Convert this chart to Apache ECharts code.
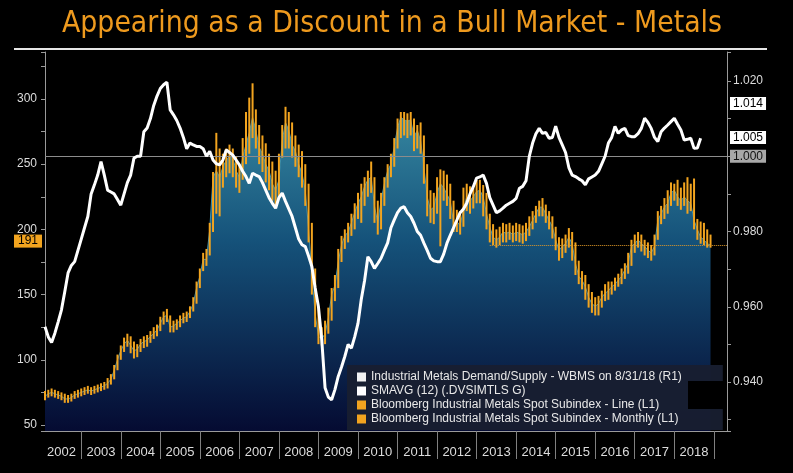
<!DOCTYPE html>
<html>
<head>
<meta charset="utf-8">
<script src="https://cdn.jsdelivr.net/npm/echarts@6/dist/echarts.min.js"></script>
<style>
  html, body { margin: 0; padding: 0; background: #000; }
  #chart { width: 793px; height: 473px; }
</style>
</head>
<body>
<div id="chart"></div>
<script>
// Metals: BCOM industrial metals spot (left) vs WBMS demand/supply 12m avg (right).
// Monthly points, Jan 2002 .. Apr 2019 on the axis.

const TITLE = 'Appearing as a Discount in a Bull Market - Metals';
const FIRST_YEAR = 2002, LAST_YEAR = 2019, LAST_MONTH = 4;

const NAME_RAW = 'Industrial Metals Demand/Supply - WBMS on 8/31/18 (R1)';
const NAME_AVG = 'SMAVG (12) (.DVSIMTLS G)';
const NAME_LINE = 'Bloomberg Industrial Metals Spot Subindex - Line (L1)';
const NAME_BARS = 'Bloomberg Industrial Metals Spot Subindex - Monthly (L1)';

// 12m average of demand/supply ratio, Jan 2002 .. Aug 2018
const WBMS_AVG = [
  0.9547, 0.952, 0.9505, 0.953, 0.956, 0.9592, 0.964, 0.969, 0.971, 0.972, 0.975, 0.978,
  0.981, 0.984, 0.990, 0.9924, 0.995, 0.9986, 0.995, 0.991, 0.9905, 0.990, 0.9885, 0.987,
  0.990, 0.993, 0.995, 0.9995, 1.000, 1.000, 1.0065, 1.0075, 1.010, 1.0135, 1.016, 1.018,
  1.019, 1.0197, 1.0123, 1.011, 1.0095, 1.0075, 1.005, 1.002, 1.0035, 1.003, 1.0026, 1.0026,
  1.002, 1.000, 1.0013, 0.999, 0.998, 0.9977, 0.999, 1.0017, 1.001, 1.0003, 0.999, 0.9977,
  0.996, 0.9946, 0.9928, 0.9955, 0.995, 0.9946, 0.993, 0.991, 0.989, 0.9875, 0.9862, 0.989,
  0.9902, 0.988, 0.986, 0.984, 0.981, 0.978, 0.9765, 0.976, 0.9735, 0.9707, 0.965, 0.960,
  0.9512, 0.9385, 0.936, 0.9353, 0.938, 0.9415, 0.944, 0.9468, 0.950, 0.949, 0.952, 0.9556,
  0.962, 0.967, 0.9733, 0.972, 0.9702, 0.9715, 0.9729, 0.975, 0.977, 0.981, 0.9831, 0.985,
  0.9862, 0.9866, 0.985, 0.984, 0.9822, 0.980, 0.979, 0.9769, 0.975, 0.9729, 0.9722, 0.972,
  0.972, 0.974, 0.9769, 0.979, 0.981, 0.983, 0.985, 0.986, 0.9875, 0.990, 0.9919, 0.9942,
  0.9945, 0.995, 0.9928, 0.989, 0.987, 0.985, 0.9855, 0.9862, 0.987, 0.9875, 0.988, 0.9888,
  0.9915, 0.992, 0.9935, 1.000, 1.0035, 1.006, 1.0074, 1.0061, 1.0063, 1.0048, 1.005, 1.008,
  1.005, 1.003, 1.001, 0.997, 0.995, 0.9946, 0.994, 0.9935, 0.9924, 0.994, 0.9945, 0.995,
  0.996, 0.998, 1.000, 1.0035, 1.005, 1.0079, 1.0061, 1.007, 1.0074, 1.0055, 1.0052, 1.0052,
  1.006, 1.0074, 1.0101, 1.009, 1.0074, 1.005, 1.0039, 1.0065, 1.0075, 1.0083, 1.0092, 1.0101,
  1.0085, 1.0070, 1.0043, 1.0045, 1.0048, 1.0021, 1.0022, 1.0048,
];

// spot subindex, month-end close, Jan 2002 .. Nov 2018
const SPOT_CLOSE = [
  72, 74, 75, 74, 73, 72, 70, 70, 71, 73, 74, 75,
  76, 77, 76, 77, 78, 79, 80, 82, 85, 92, 100, 107,
  112, 115, 111, 107, 108, 112, 114, 115, 118, 120, 123, 128,
  133, 134, 125, 126, 128, 130, 132, 133, 137, 143, 155, 164,
  177, 177, 200, 240, 245, 240, 248, 253, 256, 255, 245, 240,
  255, 265, 274, 286, 276, 263, 258, 250, 245, 235, 230, 238,
  268, 282, 276, 265, 260, 250, 243, 230, 200, 165, 135, 118,
  116, 120, 132, 150, 157, 175, 188, 195, 198, 205, 213, 220,
  225, 233, 238, 240, 218, 205, 222, 235, 245, 250, 263, 278,
  286, 284, 283, 284, 271, 276, 268, 248, 225, 215, 217, 228,
  235, 232, 227, 222, 205, 206, 203, 215, 225, 222, 225, 229,
  230, 225, 212, 202, 194, 192, 194, 198, 197, 198, 196, 198,
  197, 196, 198, 202, 207, 212, 217, 217, 212, 207, 202, 192,
  184, 187, 189, 194, 189, 174, 164, 161, 156, 148, 143, 141,
  143, 148, 151, 153, 156, 158, 161, 164, 169, 174, 187, 189,
  192, 189, 187, 184, 182, 187, 207, 212, 217, 220, 228, 230,
  225, 222, 225, 222, 220, 207, 200, 194, 192, 189, 188,
];

// monthly high / low of the spot subindex
const SPOT_HIGH = [
  76, 77, 78, 77, 76, 75, 74, 73, 74, 76, 77, 78,
  79, 80, 79, 80, 81, 82, 83, 86, 89, 96, 104, 111,
  117, 120, 118, 114, 112, 116, 118, 119, 122, 125, 127, 133,
  137, 139, 134, 130, 131, 134, 136, 137, 141, 148, 160, 170,
  182, 185, 205, 244, 274, 262, 258, 262, 265, 262, 256, 250,
  270, 290, 301, 312, 292, 280, 272, 266, 258, 252, 245, 258,
  280, 294, 290, 282, 272, 265, 260, 250, 235, 205, 170, 140,
  125, 130, 140, 155, 165, 185, 195, 200, 205, 212, 220, 228,
  235, 240, 245, 252, 240, 222, 228, 240, 250, 258, 270, 285,
  290, 290, 289, 290, 285, 280, 282, 272, 250, 230, 228, 240,
  246, 245, 242, 235, 222, 215, 214, 232, 235, 233, 232, 238,
  238, 234, 228, 212, 204, 200, 202, 205, 204, 205, 203, 205,
  204, 203, 205, 210, 214, 218, 222, 224, 219, 214, 210, 202,
  194, 193, 196, 201, 198, 190, 176, 168, 165, 158, 152, 148,
  149, 153, 158, 160, 160, 163, 166, 170, 174, 182, 192, 196,
  198, 196, 192, 190, 188, 196, 214, 218, 224, 230, 236, 235,
  238, 232, 236, 240, 235, 239, 208, 206, 205, 200, 196,
];
const SPOT_LOW = [
  69, 71, 72, 71, 70, 69, 67, 67, 68, 70, 71, 72,
  73, 74, 73, 74, 75, 76, 77, 78, 81, 85, 92, 100,
  106, 110, 105, 101, 102, 106, 109, 110, 113, 116, 118, 122,
  127, 129, 121, 121, 123, 125, 128, 129, 132, 137, 143, 155,
  168, 172, 180, 198, 212, 210, 232, 240, 243, 240, 232, 228,
  238, 250, 258, 270, 262, 250, 244, 236, 230, 222, 218, 225,
  255, 262, 262, 255, 248, 240, 232, 218, 190, 150, 125, 112,
  111, 112, 120, 130, 145, 155, 175, 185, 190, 195, 200, 208,
  205, 218, 225, 228, 205, 196, 200, 218, 232, 240, 248, 262,
  270, 272, 270, 272, 260, 262, 258, 235, 210, 205, 204, 212,
  187, 222, 218, 208, 198, 198, 196, 202, 214, 212, 216, 220,
  220, 210, 200, 190, 188, 186, 188, 190, 190, 192, 190, 191,
  190, 189, 191, 195, 200, 205, 210, 210, 205, 200, 193, 184,
  176, 178, 182, 186, 176, 165, 158, 154, 146, 140, 136, 134,
  134, 140, 145, 146, 150, 153, 156, 158, 162, 166, 172, 182,
  186, 183, 180, 178, 176, 180, 192, 204, 208, 212, 218, 222,
  218, 215, 218, 212, 214, 200, 192, 189, 188, 186, 186,
];

// axis tags
const SPOT_TAG = 191;        // left tag
const SPOT_LAST = 188;       // dotted last-price line
const SPOT_LAST_FROM = 135;  // month index where the dotted line starts
const RAW_LAST = 1.014;
const AVG_LAST = 1.005;
const PARITY = 1.000;

const MONTHS = [];
for (let y = FIRST_YEAR; y <= LAST_YEAR; y++) {
  for (let m = 1; m <= 12; m++) {
    if (y === LAST_YEAR && m > LAST_MONTH) break;
    MONTHS.push(y + '-' + String(m).padStart(2, '0'));
  }
}

const ORANGE = '#f2a41f';
const AXIS_C = '#9a9a9a';
const TEXT_C = '#dcdcdc';
const FONT = 'Liberation Sans';
const NONE = { color: 'rgba(0,0,0,0)', width: 0 };

// title is squeezed horizontally to the narrow terminal look
const TITLE_FONT = 'DejaVu Sans';
const TITLE_SIZE = 31;
const TITLE_W = 660;
const titleScale = (() => {
  const ctx = document.createElement('canvas').getContext('2d');
  ctx.font = TITLE_SIZE + 'px "' + TITLE_FONT + '"';
  return TITLE_W / ctx.measureText(TITLE).width;
})();

const chart = echarts.init(document.getElementById('chart'), null, { renderer: 'canvas' });

// tag label on an axis (price flag)
const tag = (bg, fg) => ({
  show: true, position: 'end', distance: 3, formatter: (p) => Number(p.value).toFixed(3),
  backgroundColor: bg, color: fg, padding: [1, 3, 0, 3], fontSize: 12, fontFamily: FONT,
});

function renderBar(params, api) {
  const lo = api.coord([api.value(0), api.value(1)]);
  const hi = api.coord([api.value(0), api.value(2)]);
  return {
    type: 'rect',
    shape: { x: lo[0] - 1, y: hi[1], width: 2, height: Math.max(1, lo[1] - hi[1]) },
    style: { fill: ORANGE },
  };
}

const option = {
  backgroundColor: '#000',
  animation: false,
  graphic: [
    {
      type: 'text', x: 62, y: 8, scaleX: titleScale, originX: 0,
      style: { text: TITLE, fill: '#ee9a1e', fontFamily: TITLE_FONT, fontSize: TITLE_SIZE, verticalAlign: 'top' },
    },
    { type: 'line', shape: { x1: 14, y1: 49, x2: 767, y2: 49 }, style: { stroke: '#e6e6e6', lineWidth: 2 } },
    { type: 'rect', shape: { x: 688, y: 381, width: 35, height: 28 }, style: { fill: '#000' }, z: 100 },
  ],
  legend: {
    orient: 'vertical', left: 347, top: 365,
    padding: [5, 41, 4, 10], itemGap: 0, itemWidth: 9, itemHeight: 9, icon: 'rect',
    backgroundColor: 'rgba(24,31,48,0.95)',
    textStyle: { color: '#e8e8e8', fontSize: 12, fontFamily: FONT, lineHeight: 14 },
    data: [
      { name: NAME_RAW, itemStyle: { color: '#f2f2f2' } },
      { name: NAME_AVG, itemStyle: { color: '#ffffff' } },
      { name: NAME_LINE, itemStyle: { color: ORANGE } },
      { name: NAME_BARS, itemStyle: { color: ORANGE } },
    ],
    selectedMode: false,
  },
  grid: { left: 45, right: 66, top: 52, bottom: 42 },
  xAxis: {
    type: 'category', data: MONTHS, boundaryGap: false,
    axisLine: { lineStyle: { color: AXIS_C } },
    axisTick: { interval: (i, v) => v.endsWith('-12'), length: 28, lineStyle: { color: '#808080' } },
    axisLabel: {
      interval: (i, v) => v.endsWith('-06'), formatter: (v) => v.slice(0, 4),
      color: TEXT_C, fontSize: 13, fontFamily: FONT, margin: 15,
    },
    splitLine: { show: false },
  },
  yAxis: [
    {
      type: 'value', position: 'left', min: 45.4, max: 336, scale: true,
      axisLine: { show: true, lineStyle: { color: AXIS_C } },
      axisTick: { show: true, length: 4, lineStyle: { color: AXIS_C } },
      minorTick: { show: true, splitNumber: 2, length: 4, lineStyle: { color: AXIS_C } },
      splitLine: { show: false },
      axisLabel: { color: TEXT_C, fontSize: 12, fontFamily: FONT, showMinLabel: false, showMaxLabel: false },
    },
    {
      type: 'value', position: 'right', min: 0.927, max: 1.0277, splitNumber: 10, scale: true,
      axisLine: { show: true, lineStyle: { color: AXIS_C } },
      axisTick: { show: true, length: 4, lineStyle: { color: AXIS_C } },
      splitLine: { show: false },
      axisLabel: {
        color: TEXT_C, fontSize: 12, fontFamily: FONT, margin: 6,
        formatter: (v) => {
          const k = Math.round(v * 1000);
          return (k % 20 !== 0 || k === 1000) ? '' : v.toFixed(3);
        },
      },
    },
  ],
  series: [
    {
      name: NAME_LINE, type: 'line', yAxisIndex: 0, data: SPOT_CLOSE,
      symbol: 'none', z: 1, color: ORANGE,
      lineStyle: { width: 1, color: '#3f90ab' },
      areaStyle: {
        opacity: 1,
        color: new echarts.graphic.LinearGradient(0, 85, 0, 431, [
          { offset: 0, color: '#3d92a8' },
          { offset: 0.45, color: '#15527a' },
          { offset: 1, color: '#050b32' },
        ], true),
      },
      markLine: {
        symbol: 'none', silent: true, animation: false, precision: 3,
        data: [
          {
            yAxis: SPOT_TAG, lineStyle: NONE,
            label: { show: true, position: 'start', distance: 3, formatter: String(SPOT_TAG),
              backgroundColor: ORANGE, color: '#000', padding: [1, 4, 0, 4], fontSize: 12, fontFamily: FONT },
          },
          [
            { coord: [MONTHS[SPOT_LAST_FROM], SPOT_LAST], lineStyle: { type: 'dotted', color: '#e09a28', width: 1 }, label: { show: false } },
            { coord: [MONTHS[MONTHS.length - 1], SPOT_LAST] },
          ],
        ],
      },
    },
    {
      name: NAME_BARS, type: 'custom', yAxisIndex: 0, z: 2, color: ORANGE,
      data: SPOT_LOW.map((lo, i) => [i, lo, SPOT_HIGH[i]]),
      encode: { x: 0, y: [1, 2] },
      renderItem: renderBar,
    },
    { name: NAME_RAW, type: 'line', yAxisIndex: 1, data: [], color: '#f2f2f2' },
    {
      name: NAME_AVG, type: 'line', yAxisIndex: 1, data: WBMS_AVG,
      symbol: 'none', z: 5, color: '#fff',
      lineStyle: { color: '#fff', width: 3 },
      markLine: {
        symbol: 'none', silent: true, animation: false, precision: 3,
        data: [
          { yAxis: PARITY, lineStyle: { color: '#8c8c8c', width: 1, type: 'solid' }, label: tag('#a8a8a8', '#111') },
          { yAxis: RAW_LAST, lineStyle: NONE, label: tag('#ffffff', '#000') },
          { yAxis: AVG_LAST, lineStyle: NONE, label: tag('#ffffff', '#000') },
        ],
      },
    },
  ],
};

chart.setOption(option);
</script>
</body>
</html>
